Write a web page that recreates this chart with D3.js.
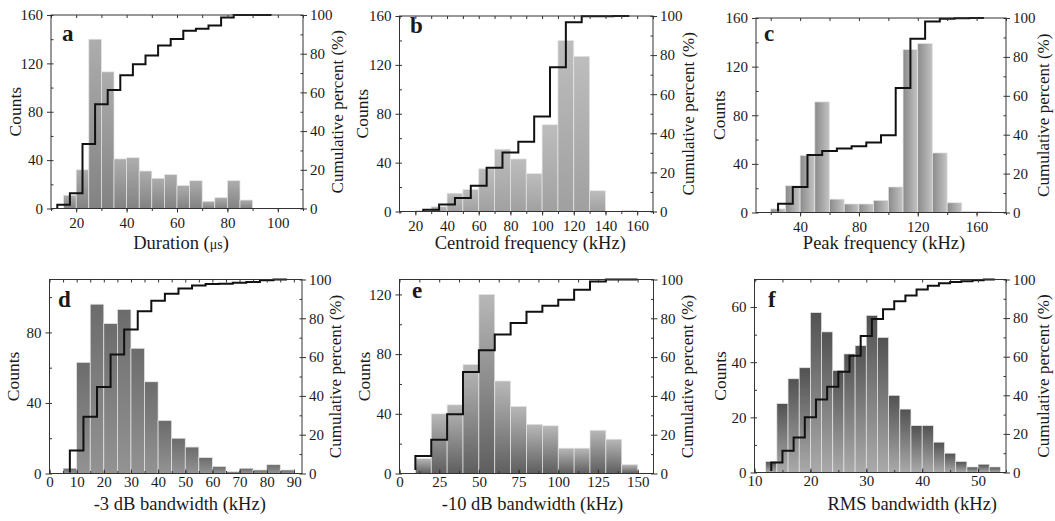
<!DOCTYPE html>
<html>
<head>
<meta charset="utf-8">
<script src="https://cdn.jsdelivr.net/npm/d3@7"></script>
<style>
body { margin: 0; background: #fff; }
svg text { font-family: "Liberation Serif", "Times New Roman", serif; fill: #1a1a1a; }
.axis path, .axis line { stroke: #333; }
</style>
</head>
<body>
<div id="chart"></div>
<script>
var width = 1055;
var height = 521;
var serif = "Liberation Serif, Times New Roman, serif";

// histogram counts (one value per bin)
var durationCounts = [0, 11, 32, 140, 113, 41, 42, 31, 25, 28, 19, 23, 6, 9, 23, 7, 0, 0];
var centroidCounts = [1, 4, 15, 18, 35, 51, 43, 31, 71, 140, 127, 17, 0, 1];
var peakCounts     = [3, 22, 47, 91, 11, 7, 7, 10, 21, 134, 139, 49, 8, 1, 1];
var bw3Counts      = [3, 63, 96, 85, 93, 71, 52, 30, 20, 15, 9, 4, 1, 3, 2, 5, 2];
var bw10Counts     = [10, 40, 46, 73, 120, 62, 45, 33, 32, 17, 17, 29, 23, 6, 0];
var rmsCounts      = [4, 25, 34, 38, 58, 51, 37, 43, 46, 57, 49, 28, 23, 17, 17, 11, 7, 4, 2, 3, 2];

// first bin edge and bin width of each histogram
var binStarts = [10, 20, 20, 5, 10, 12];
var binWidths = [5, 10, 10, 5, 10, 2];
// where the cumulative step line sits inside a bin (0 = left edge, 0.5 = centre)
var lineOffsets = [0.5, 0.5, 0.5, 0.5, 0, 0.5];

var panelLetters = ["a", "b", "c", "d", "e", "f"];
var xTitles = ["Duration (", "Centroid frequency (kHz)", "Peak frequency (kHz)",
               "-3 dB bandwidth (kHz)", "-10 dB bandwidth (kHz)", "RMS bandwidth (kHz)"];

var xDomains = [[10, 110], [10, 170], [10, 180], [0, 93], [0, 160], [10, 55]];
var xTickLabels = [
    [20, 40, 60, 80, 100],
    [20, 40, 60, 80, 100, 120, 140, 160],
    [40, 80, 120, 160],
    [0, 10, 20, 30, 40, 50, 60, 70, 80, 90],
    [0, 25, 50, 75, 100, 125, 150],
    [10, 20, 30, 40, 50]
];
var yMaxes = [160, 160, 160, 110, 130, 70];
var yTickLabels = [
    [0, 40, 80, 120, 160],
    [0, 40, 80, 120, 160],
    [0, 40, 80, 120, 160],
    [0, 40, 80],
    [0, 40, 80, 120],
    [0, 20, 40, 60]
];
var pctTicks = [0, 20, 40, 60, 80, 100];

// layout
var frames = [
    {left: 51, right: 303, top: 15, bottom: 208.5},
    {left: 399.5, right: 653, top: 16, bottom: 211.5},
    {left: 756, right: 1006, top: 18, bottom: 212.5},
    {left: 49.5, right: 302, top: 279.5, bottom: 473.5},
    {left: 399.5, right: 653.5, top: 279.5, bottom: 473.5},
    {left: 754.5, right: 1006, top: 279.5, bottom: 472.5}
];
var letterPos = [[62, 40.5], [410, 33], [764, 41], [58, 306.5], [412, 298], [768, 306.5]];
var countsTitleX = [15, 362, 719, 13, 364, 720];
var pctTitleX = [337, 688, 1043, 335, 687, 1043];
var xTitleShift = [4, 4, 3, 4, 6, 32];
var shades = [
    {c0: "#adadad", c1: "#828282", horiz: false},
    {c0: "#bdbdbd", c1: "#a0a0a0", horiz: false},
    {c0: "#8a8a8a", c1: "#c4c4c4", horiz: true},
    {c0: "#6c6c6c", c1: "#939393", horiz: false},
    {c0: "#b8b8b8", c1: "#5e5e5e", horiz: false},
    {c0: "#525252", c1: "#aaaaaa", horiz: false}
];

var panelCounts = [durationCounts, centroidCounts, peakCounts, bw3Counts, bw10Counts, rmsCounts];

var svg = d3.select("#chart")
    .append("svg")
    .attr("width", width)
    .attr("height", height);
svg.append("rect").attr("width", width).attr("height", height).attr("fill", "#fff");
var defs = svg.append("defs");

function halfSteps(vals, lo, hi) {
    var step = vals[1] - vals[0];
    var out = [];
    for (var v = vals[0] - step / 2; v <= hi; v += step / 2) {
        if (v >= lo) out.push(v);
    }
    return out;
}

function styleTicks(sel) {
    sel.selectAll("text")
        .attr("font-family", serif)
        .style("font-family", serif)
        .style("font-size", "15px")
        .attr("fill", "#1a1a1a");
}

panelLetters.forEach(function(letter, i) {
    var f = frames[i];
    var counts = panelCounts[i];
    var start = binStarts[i], w = binWidths[i];
    var bottomRow = i >= 3;

    var xScale = d3.scaleLinear().domain(xDomains[i]).range([f.left, f.right]);
    var yScale = d3.scaleLinear().domain([0, yMaxes[i]]).range([f.bottom, f.top]);
    var pScale = d3.scaleLinear().domain([0, 100]).range([f.bottom, f.top]);

    var g = svg.append("g");

    var grad = defs.append("linearGradient")
        .attr("id", "grad" + i)
        .attr("x1", 0).attr("y1", 0)
        .attr("x2", shades[i].horiz ? 1 : 0)
        .attr("y2", shades[i].horiz ? 0 : 1);
    grad.append("stop").attr("offset", "0%").attr("stop-color", shades[i].c0);
    grad.append("stop").attr("offset", "100%").attr("stop-color", shades[i].c1);

    // bars
    var bins = counts.map(function(c, j) { return {c: c, x0: start + j * w, x1: start + (j + 1) * w}; })
        .filter(function(d) { return d.c > 0; });
    g.selectAll("rect.bar")
        .data(bins)
        .enter()
        .append("rect")
        .attr("class", "bar")
        .attr("x", function(d) { return xScale(d.x0); })
        .attr("width", function(d) { return xScale(d.x1) - xScale(d.x0); })
        .attr("y", function(d) { return yScale(d.c); })
        .attr("height", function(d) { return f.bottom - yScale(d.c); })
        .attr("fill", "url(#grad" + i + ")")
        .attr("stroke", "#e6e6e6")
        .attr("stroke-width", 0.7);

    // cumulative percent step line
    var total = d3.sum(counts);
    var cum = Array.from(d3.cumsum(counts), function(v) { return v / total * 100; });
    var line = d3.line()
        .x(function(d, j) { return xScale(start + (j + lineOffsets[i]) * w); })
        .y(function(d) { return pScale(d); })
        .curve(d3.curveStepBefore);
    g.append("path")
        .datum(cum)
        .attr("d", line)
        .attr("fill", "none")
        .attr("stroke", "#111")
        .attr("stroke-width", 2);

    // frame
    g.append("rect")
        .attr("x", f.left).attr("y", f.top)
        .attr("width", f.right - f.left).attr("height", f.bottom - f.top)
        .attr("fill", "none").attr("stroke", "#333").attr("stroke-width", 1);

    // bottom axis
    var xAxis = d3.axisBottom(xScale).tickValues(xTickLabels[i]).tickSizeOuter(0)
        .tickSizeInner(bottomRow ? -4 : 4).tickPadding(bottomRow ? 3 : 5);
    g.append("g").attr("class", "axis")
        .attr("transform", "translate(0," + f.bottom + ")")
        .call(xAxis)
        .call(styleTicks);
    g.append("g").attr("class", "axis")
        .attr("transform", "translate(0," + f.bottom + ")")
        .call(d3.axisBottom(xScale).tickValues(halfSteps(xTickLabels[i], xDomains[i][0], xDomains[i][1]))
            .tickSizeOuter(0).tickSizeInner(bottomRow ? -2.5 : 2.5).tickFormat(""));
    // top ticks pointing inward
    g.append("g").attr("class", "axis")
        .attr("transform", "translate(0," + f.top + ")")
        .call(d3.axisBottom(xScale).tickValues(halfSteps(xTickLabels[i], xDomains[i][0], xDomains[i][1]))
            .tickSizeOuter(0).tickSize(3).tickFormat(""));

    // left axis
    g.append("g").attr("class", "axis")
        .attr("transform", "translate(" + f.left + ",0)")
        .call(d3.axisLeft(yScale).tickValues(yTickLabels[i]).tickSizeOuter(0).tickSize(4).tickPadding(4))
        .call(styleTicks);
    g.append("g").attr("class", "axis")
        .attr("transform", "translate(" + f.left + ",0)")
        .call(d3.axisRight(yScale).tickValues(halfSteps(yTickLabels[i], 0, yMaxes[i]))
            .tickSizeOuter(0).tickSize(2.5).tickFormat(""));

    // right axis
    g.append("g").attr("class", "axis")
        .attr("transform", "translate(" + f.right + ",0)")
        .call(d3.axisRight(pScale).tickValues(pctTicks).tickSizeOuter(0).tickSize(4).tickPadding(3))
        .call(styleTicks);
    g.append("g").attr("class", "axis")
        .attr("transform", "translate(" + f.right + ",0)")
        .call(d3.axisLeft(pScale).tickValues(halfSteps(pctTicks, 0, 100))
            .tickSizeOuter(0).tickSize(2.5).tickFormat(""));

    g.selectAll(".axis path.domain").remove();

    // titles
    var xt = g.append("text")
        .attr("x", (f.left + f.right) / 2 + xTitleShift[i])
        .attr("y", bottomRow ? 510 : 249)
        .attr("text-anchor", "middle")
        .attr("font-family", serif)
        .style("font-size", "18.5px")
        .text(xTitles[i]);
    if (i === 0) {
        xt.append("tspan").style("font-size", "14px").text("μs");
        xt.append("tspan").text(")");
    }

    g.append("text")
        .attr("transform", "translate(" + countsTitleX[i] + "," + ((f.top + f.bottom) / 2) + ") rotate(-90)")
        .attr("text-anchor", "middle")
        .attr("dy", "0.35em")
        .attr("font-family", serif)
        .style("font-size", "17.5px")
        .text("Counts");

    g.append("text")
        .attr("transform", "translate(" + pctTitleX[i] + "," + ((f.top + f.bottom) / 2) + ") rotate(-90)")
        .attr("text-anchor", "middle")
        .attr("dy", "0.35em")
        .attr("font-family", serif)
        .style("font-size", "17px")
        .text("Cumulative percent (%)");

    g.append("text")
        .attr("x", letterPos[i][0])
        .attr("y", letterPos[i][1])
        .attr("font-family", serif)
        .style("font-size", "23px")
        .style("font-weight", "bold")
        .text(letter);
});
</script>
</body>
</html>
